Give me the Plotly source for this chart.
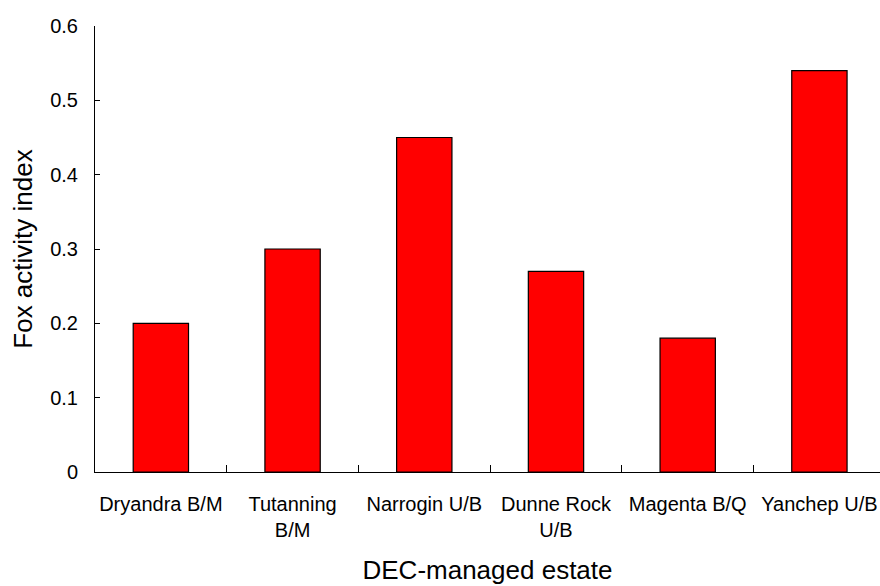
import plotly.graph_objects as go

categories = ["Dryandra B/M", "Tutanning<br>B/M", "Narrogin U/B", "Dunne Rock<br>U/B", "Magenta B/Q", "Yanchep U/B"]
fox_activity = [0.20, 0.30, 0.45, 0.27, 0.18, 0.54]
y_ticks = [0, 0.1, 0.2, 0.3, 0.4, 0.5, 0.6]
y_tick_labels = ["0", "0.1", "0.2", "0.3", "0.4", "0.5", "0.6"]

FONT = "Liberation Sans, Arial, sans-serif"

fig = go.Figure(go.Bar(
    x=categories, y=fox_activity,
    marker=dict(color="#ff0000", line=dict(color="#000000", width=1.2)),
))

fig.update_layout(
    width=880, height=586,
    paper_bgcolor="white", plot_bgcolor="white",
    margin=dict(l=95, r=0, t=26, b=114),
    bargap=0.58,
    showlegend=False,
    font=dict(family=FONT, color="black", size=20),
    xaxis=dict(
        type="category",
        range=[-0.5, 5.46],
        showline=True, linecolor="black", linewidth=1,
        ticks="inside", ticklen=7, tickcolor="black", tickwidth=1,
        tickson="boundaries",
        tickangle=0,
        showgrid=False, zeroline=False,
        tickfont=dict(size=20, family=FONT, color="black"),
        ticklabelstandoff=14,
        title=dict(text="DEC-managed estate", font=dict(size=26, family=FONT, color="black"), standoff=20),
        automargin=False,
    ),
    yaxis=dict(
        range=[0, 0.6],
        tickvals=y_ticks, ticktext=y_tick_labels,
        showline=True, linecolor="black", linewidth=1,
        ticks="inside", ticklen=5, tickcolor="black", tickwidth=1,
        showgrid=False, zeroline=False,
        tickfont=dict(size=20, family=FONT, color="black"),
        ticklabelstandoff=12,
        title=dict(text="Fox activity index", font=dict(size=26, family=FONT, color="black"), standoff=10),
        automargin=False,
    ),
)

fig.write_html(
    "out.html",
    config={"displayModeBar": False},
    post_script="document.body.style.margin='0';document.body.style.overflow='hidden';",
)
